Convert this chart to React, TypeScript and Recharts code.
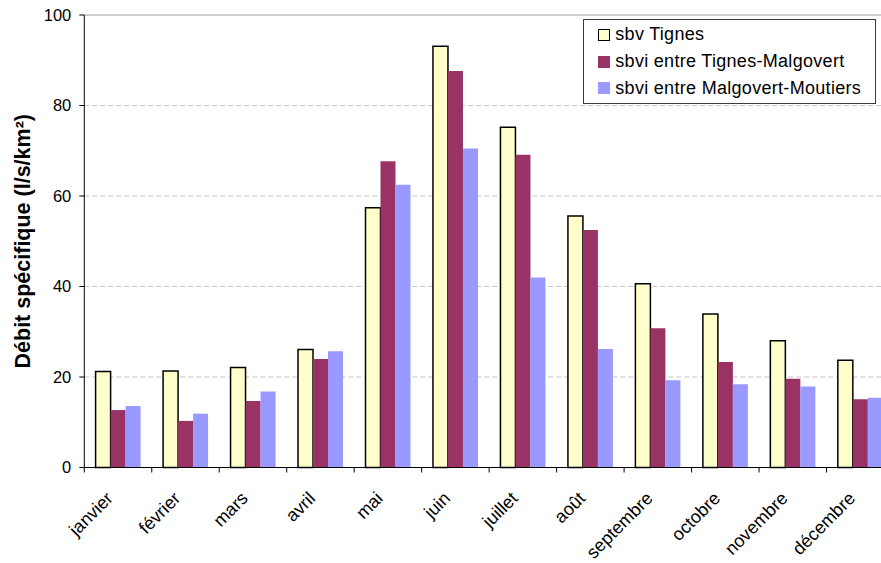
import { BarChart, Bar, XAxis, YAxis, CartesianGrid, Legend, ReferenceLine } from "recharts"

const months = [
  "janvier", "février", "mars", "avril", "mai", "juin",
  "juillet", "août", "septembre", "octobre", "novembre", "décembre",
]
const sbvTignes = [21.2, 21.3, 22.1, 26.1, 57.4, 93.1, 75.2, 55.6, 40.6, 33.9, 28.0, 23.7]
const sbviTignesMalgovert = [12.7, 10.3, 14.7, 24.0, 67.7, 87.6, 69.1, 52.5, 30.8, 23.3, 19.6, 15.1]
const sbviMalgovertMoutiers = [13.6, 11.9, 16.8, 25.7, 62.5, 70.5, 42.0, 26.2, 19.3, 18.4, 17.9, 15.4]
const yTicks = [0, 20, 40, 60, 80, 100]

const SERIES = [
  { key: "tignes", name: "sbv Tignes", fill: "#FFFFCC", stroke: "#000" },
  { key: "tignesMalgovert", name: "sbvi entre Tignes-Malgovert", fill: "#993366", stroke: "none" },
  { key: "malgovertMoutiers", name: "sbvi entre Malgovert-Moutiers", fill: "#9999FF", stroke: "none" },
]

const data = months.map((m, i) => ({
  mois: m,
  tignes: sbvTignes[i],
  tignesMalgovert: sbviTignesMalgovert[i],
  malgovertMoutiers: sbviMalgovertMoutiers[i],
}))

const CHART_W = 894
const CHART_H = 563
const Y_AXIS_W = 84.3
const BAND = (CHART_W - Y_AXIS_W) / months.length

const MonthTick = ({ x, y, payload }: any) => {
  const left = x - BAND / 2
  const tx = x - 4
  const ty = y + 32
  return (
    <g>
      <line x1={left} y1={y} x2={left} y2={y + 5} stroke="#000" />
      <text x={tx} y={ty} transform={`rotate(-45 ${tx} ${ty})`} textAnchor="end" fontSize={18} fill="#000">
        {payload.value}
      </text>
    </g>
  )
}

const YLabel = ({ viewBox }: any) => {
  const x = viewBox.x + 23
  const y = viewBox.y + viewBox.height / 2
  return (
    <text
      x={x}
      y={y}
      transform={`rotate(-90 ${x} ${y})`}
      textAnchor="middle"
      dominantBaseline="central"
      fontSize={21.5}
      fontWeight="bold"
      fill="#000"
    >
      Débit spécifique (l/s/km²)
    </text>
  )
}

const LegendBox = () => (
  <div
    style={{
      width: 293,
      border: "1.5px solid #3a3a3a",
      padding: "1.5px 0",
      background: "#fff",
      boxSizing: "border-box",
    }}
  >
    {SERIES.map((s) => (
      <div key={s.key} style={{ display: "flex", alignItems: "center", height: 26.7, paddingLeft: 14 }}>
        <span
          style={{
            width: 12,
            height: 12,
            background: s.fill,
            border: s.stroke === "none" ? "none" : "1.5px solid #000",
            boxSizing: "border-box",
            marginRight: 5,
            display: "inline-block",
          }}
        />
        <span style={{ fontSize: 18, letterSpacing: 0.3, color: "#000" }}>{s.name}</span>
      </div>
    ))}
  </div>
)

export default function App() {
  return (
    <div
      style={{
        position: "fixed",
        left: 0,
        top: 0,
        width: 881,
        height: 563,
        overflow: "hidden",
        background: "#fff",
        fontFamily: '"Liberation Sans", Arial, sans-serif',
      }}
    >
      <BarChart
        width={CHART_W}
        height={CHART_H}
        data={data}
        margin={{ top: 15, right: 0, bottom: 0, left: 0 }}
        barGap={0}
        barCategoryGap={11.3}
      >
        <CartesianGrid vertical={false} strokeDasharray="5 3" stroke="#c4c4c4" />
        <XAxis
          dataKey="mois"
          height={95.5}
          interval={0}
          tickLine={false}
          tickSize={0}
          tickMargin={0}
          axisLine={{ stroke: "#000" }}
          tick={<MonthTick />}
        />
        <YAxis
          width={Y_AXIS_W}
          domain={[0, 100]}
          ticks={yTicks}
          tickSize={5}
          tickMargin={8}
          axisLine={{ stroke: "#000" }}
          tickLine={{ stroke: "#000" }}
          tick={{ fill: "#000", fontSize: 16.5 }}
          label={{ content: YLabel }}
        />
        <ReferenceLine y={100} stroke="#c8c8c8" strokeWidth={1.5} />
        <Legend
          layout="vertical"
          align="center"
          verticalAlign="middle"
          content={<LegendBox />}
          wrapperStyle={{ left: 583.3, top: 19, width: 293 }}
        />
        {SERIES.map((s) => (
          <Bar
            key={s.key}
            dataKey={s.key}
            name={s.name}
            fill={s.fill}
            stroke={s.stroke}
            strokeWidth={s.stroke === "none" ? 0 : 1.5}
            isAnimationActive={false}
          />
        ))}
      </BarChart>
    </div>
  )
}
